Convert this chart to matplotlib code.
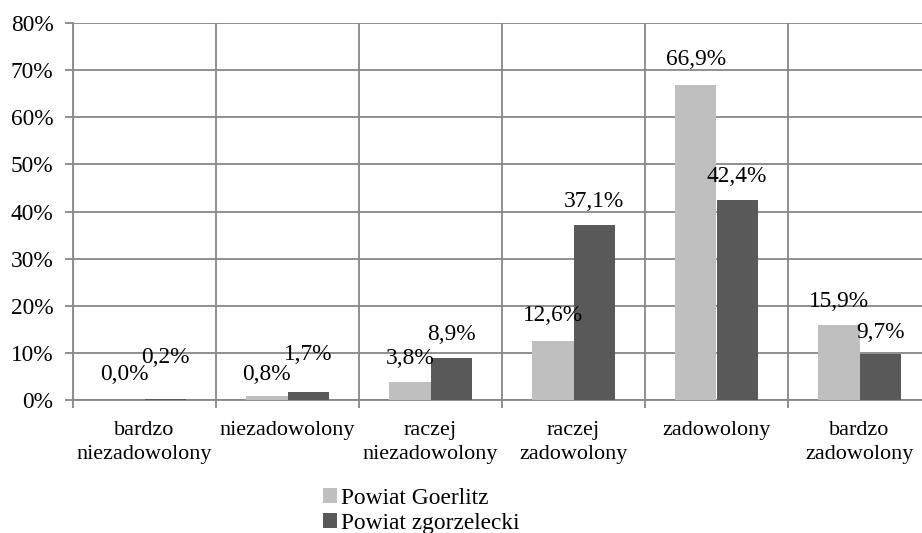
import matplotlib
matplotlib.use("Agg")
import matplotlib.pyplot as plt
import numpy as np
from matplotlib.ticker import FixedLocator, FuncFormatter

categories = ["bardzo\nniezadowolony", "niezadowolony", "raczej\nniezadowolony",
              "raczej\nzadowolony", "zadowolony", "bardzo\nzadowolony"]
goerlitz = [0.0, 0.8, 3.8, 12.6, 66.9, 15.9]
zgorzelecki = [0.2, 1.7, 8.9, 37.1, 42.4, 9.7]
series_names = ["Powiat Goerlitz", "Powiat zgorzelecki"]
yticks = [0, 10, 20, 30, 40, 50, 60, 70, 80]

# label offsets above bar top (pixels), style only
off_g = [25, 22, 24, 25, 25, 24]
off_z = [42, 37, 24, 24, 24, 22]

plt.rcParams['font.family'] = ['Liberation Serif', 'DejaVu Serif']
FS = 16.8
FS_CAT = 15.9

fig = plt.figure(figsize=(9.22, 5.33), dpi=100)
L, R, B, T = 73/922, 931/922, 1-400/533, 1-23/533
ax = fig.add_axes([L, B, R-L, T-B])

x = np.arange(len(categories))
w = 0.288
c_light = "#bfbfbf"
c_dark = "#595959"
grid_c = "#878787"

ax.bar(x - w/2, goerlitz, w, color=c_light, zorder=3, label=series_names[0])
ax.bar(x + w/2, zgorzelecki, w, color=c_dark, zorder=3, label=series_names[1])

ax.set_xlim(-0.5, len(categories) - 0.5)
ax.set_ylim(0, 80)

ax.yaxis.set_major_locator(FixedLocator(yticks))
ax.yaxis.set_major_formatter(FuncFormatter(lambda v, p: f"{int(v)}%"))
ax.set_xticks(x)
ax.set_xticklabels(categories, fontsize=FS_CAT, linespacing=1.35)
ax.set_xticks(np.arange(-0.5, len(categories)), minor=True)
ax.tick_params(axis='x', which='major', length=0, pad=15)
ax.tick_params(axis='x', which='minor', length=6, width=1.3, color=grid_c, direction='out')
ax.tick_params(axis='y', length=6, width=1.3, color=grid_c, pad=8, labelsize=FS)

ax.grid(axis='y', which='major', color=grid_c, linewidth=1.3, zorder=0)
ax.grid(axis='x', which='minor', color=grid_c, linewidth=1.3, zorder=0)
ax.set_axisbelow(True)
for s in ['top', 'right']:
    ax.spines[s].set_visible(False)
for s in ['left', 'bottom']:
    ax.spines[s].set_color(grid_c)
    ax.spines[s].set_linewidth(1.3)

def fmt(v):
    return f"{v:.1f}%".replace('.', ',')

px2pt = 72 / 100
for i in range(len(categories)):
    ax.annotate(fmt(goerlitz[i]), (x[i] - w/2, goerlitz[i]), xytext=(0, off_g[i]*px2pt),
                textcoords='offset points', ha='center', va='center', fontsize=FS, zorder=5)
    ax.annotate(fmt(zgorzelecki[i]), (x[i] + w/2, zgorzelecki[i]), xytext=(0, off_z[i]*px2pt),
                textcoords='offset points', ha='center', va='center', fontsize=FS, zorder=5)

fig.legend(loc='upper left', bbox_to_anchor=(323/922, 1-488/533), frameon=False,
           fontsize=FS, handlelength=0.62, handleheight=0.62, handletextpad=0.15,
           labelspacing=0.15, borderpad=0, borderaxespad=0)

fig.savefig("out.png", dpi=100)
